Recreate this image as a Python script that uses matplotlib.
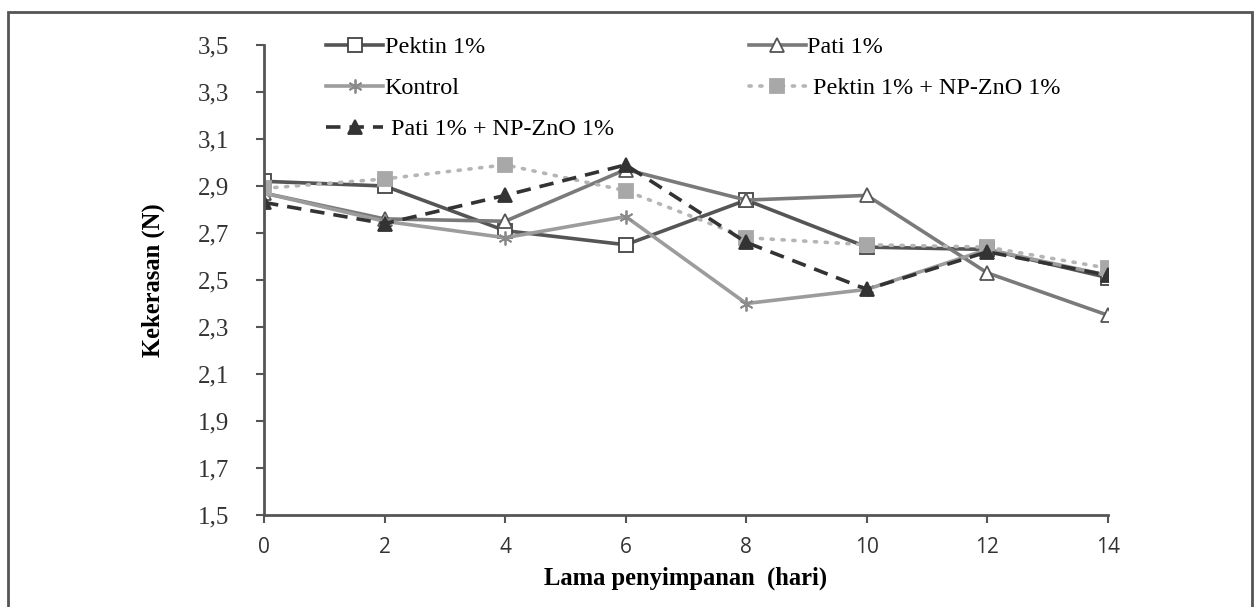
import matplotlib

matplotlib.use("Agg")

import matplotlib.pyplot as plt

W, H = 1259, 607

days = [0, 2, 4, 6, 8, 10, 12, 14]
pektin = [2.92, 2.90, 2.71, 2.65, 2.84, 2.64, 2.63, 2.51]
pati = [2.87, 2.76, 2.75, 2.97, 2.84, 2.86, 2.53, 2.35]
kontrol = [2.87, 2.75, 2.68, 2.77, 2.40, 2.46, 2.63, 2.52]
pektin_zno = [2.89, 2.93, 2.99, 2.88, 2.68, 2.65, 2.64, 2.55]
pati_zno = [2.83, 2.74, 2.86, 2.99, 2.66, 2.46, 2.62, 2.52]

y_ticks = [1.5, 1.7, 1.9, 2.1, 2.3, 2.5, 2.7, 2.9, 3.1, 3.3, 3.5]
y_labels = [f"{v:.1f}".replace(".", ",") for v in y_ticks]

plt.rcParams["font.family"] = ["Liberation Serif", "DejaVu Serif"]

fig = plt.figure(figsize=(W / 100, H / 100), dpi=100)
fig.patch.set_facecolor("white")

# outer frame (bottom edge falls outside the image)
fig.add_artist(plt.Rectangle((8 / W, -0.05), (1252 - 8) / W, 1.05 - 12 / H,
                             transform=fig.transFigure, fill=False,
                             edgecolor="#555555", linewidth=2))

ax = fig.add_axes([264 / W, 1 - 515 / H, (1108 - 264) / W, (515 - 45) / H])

series = [
    ("Pektin 1%", pektin, dict(color="#555555", linestyle="-", marker="s",
                               markerfacecolor="white", markeredgecolor="#444444")),
    ("Pati 1%", pati, dict(color="#7a7a7a", linestyle="-", marker="^",
                           markerfacecolor="white", markeredgecolor="#555555")),
    ("Kontrol", kontrol, dict(color="#9c9c9c", linestyle="-", marker=(6, 2, 0),
                              markerfacecolor="#9c9c9c", markeredgecolor="#8a8a8a")),
    (" Pektin 1% + NP-ZnO 1%", pektin_zno, dict(color="#b5b5b5", linestyle=(0, (0.6, 2.4)), marker="s",
                                                markerfacecolor="#a8a8a8", markeredgecolor="#a8a8a8",
                                                dash_capstyle="round")),
    (" Pati 1% + NP-ZnO 1%", pati_zno, dict(color="#333333", linestyle=(0, (4, 2.5)), marker="^",
                                            markerfacecolor="#333333", markeredgecolor="#333333")),
]

handles = []
for name, vals, st in series:
    ln, = ax.plot(days, vals, linewidth=2.6, markersize=10, markeredgewidth=1.3, label=name, **st)
    handles.append(ln)

ax.set_xlim(0, 14)
ax.set_ylim(1.5, 3.5)
ax.set_xticks(days)
ax.set_xticklabels([str(d) for d in days], family=["Open Sans", "DejaVu Sans"], fontsize=15, color="#333333")
ax.set_yticks(y_ticks)
ax.set_yticklabels(y_labels, fontsize=18, color="#333333")
ax.tick_params(axis="both", direction="out", length=6, width=1.5, color="#555555")
ax.tick_params(axis="y", pad=19)
ax.tick_params(axis="x", pad=10)

for s in ["top", "right"]:
    ax.spines[s].set_visible(False)
for s in ["left", "bottom"]:
    ax.spines[s].set_color("#555555")
    ax.spines[s].set_linewidth(2)

ax.set_xlabel("Lama penyimpanan  (hari)", fontsize=17.7, fontweight="bold", labelpad=6)
ax.set_ylabel("Kekerasan (N)", fontsize=17.7, fontweight="bold", labelpad=24)

# column-wise fill: Pektin, Kontrol, Pati+ZnO | Pati, Pektin+ZnO
order = [0, 2, 4, 1, 3]
ax.legend(handles=[handles[i] for i in order],
          loc="upper left", bbox_to_anchor=(0.048, 1.065), ncol=2,
          frameon=False, fontsize=17.4, handlelength=2.36, handletextpad=0.05,
          columnspacing=5.6, labelspacing=0.79)

fig.savefig("out.png", dpi=100, facecolor="white")
